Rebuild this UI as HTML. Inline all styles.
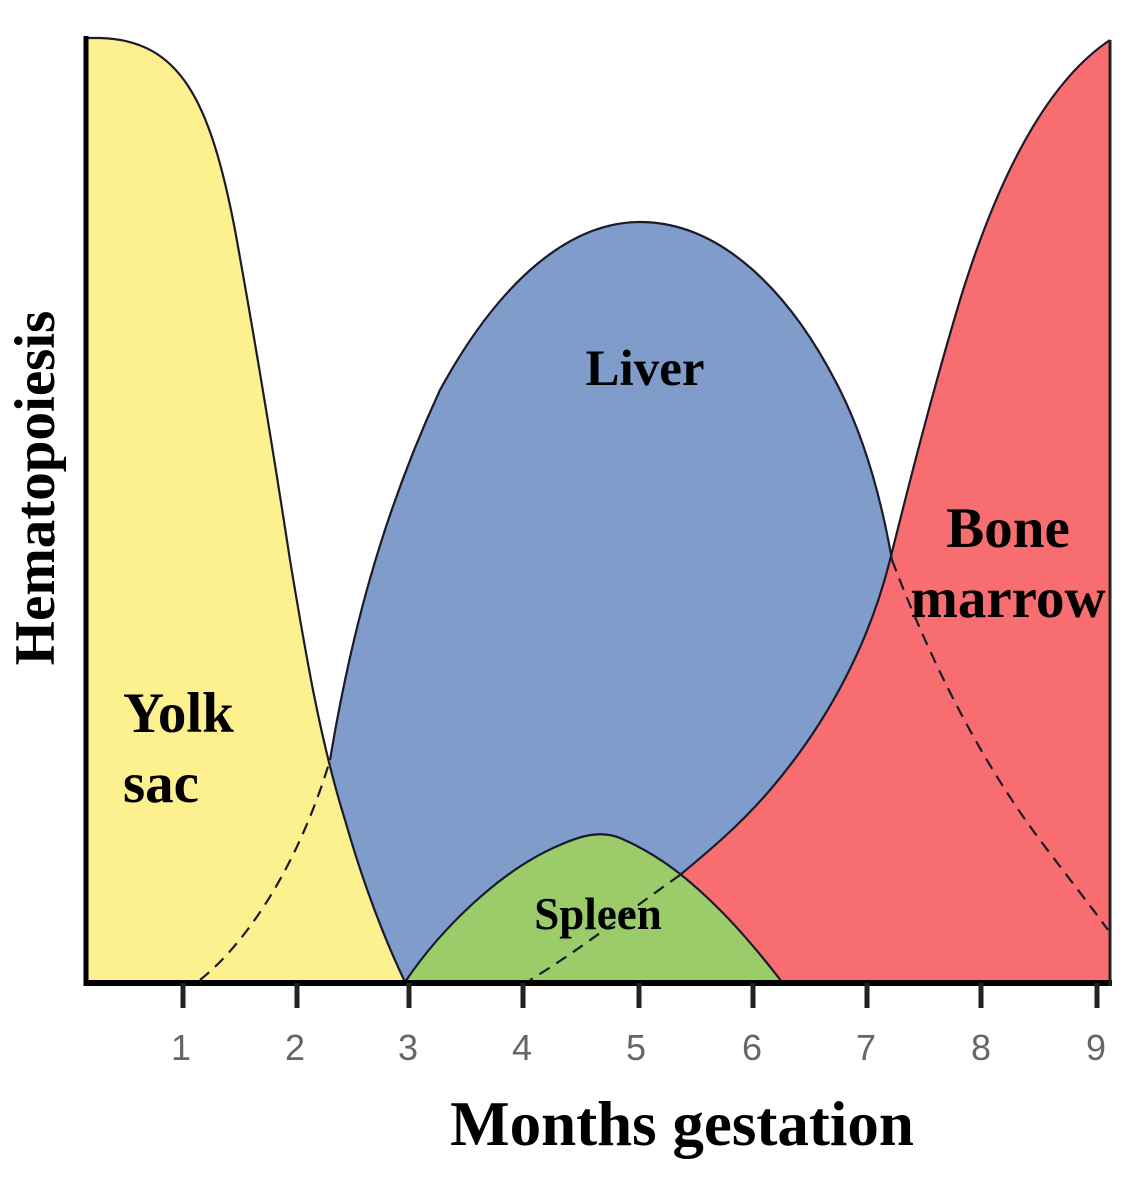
<!DOCTYPE html>
<html><head><style>
html,body{margin:0;padding:0;background:#fff;}
svg{display:block;}
</style></head><body>
<svg width="1124" height="1202" viewBox="0 0 1124 1202" xmlns="http://www.w3.org/2000/svg">
<path d="M330,760 C350,640 380,520 440,390 C500,280 570,222 640,222 C720,222 790,290 840,390 C870,450 885,520 892,560 L1108,930 L1108,982 L200,982 Z" fill="#7f9ccb"/>
<path d="M1110,40 C1050,80 1000,170 960,300 C930,400 905,500 890,560 C870,640 830,720 770,790 C740,825 710,850 680,875 C720,910 750,950 780,982 L1110,982 Z" fill="#f76d70"/>
<path d="M86,38 L100,38 C180,40 210,100 235,230 C255,340 270,430 290,560 C305,650 320,740 345,820 C365,890 385,940 405,982 L86,982 Z" fill="#fdf08f"/>
<path d="M405,982 C440,930 500,870 560,845 C580,836 600,830 620,838 C660,855 690,880 720,910 C745,935 765,960 782,982 Z" fill="#9ccb6a"/>
<g fill="none" stroke="#1a1a2a" stroke-width="2.2">
<path d="M86,38 L100,38 C180,40 210,100 235,230 C255,340 270,430 290,560 C305,650 320,740 345,820 C365,890 385,940 405,982"/>
<path d="M330,760 C350,640 380,520 440,390 C500,280 570,222 640,222 C720,222 790,290 840,390 C870,450 885,520 892,560"/>
<path d="M1110,40 C1050,80 1000,170 960,300 C930,400 905,500 890,560 C870,640 830,720 770,790 C740,825 710,850 680,875"/>
<path d="M405,982 C440,930 500,870 560,845 C580,836 600,830 620,838 C660,855 690,880 720,910 C745,935 765,960 782,982"/>
</g>
<g fill="none" stroke="#1a1a2a" stroke-width="2.2" stroke-dasharray="12,8">
<path d="M200,980 C250,940 300,860 330,760"/>
<path d="M892,560 C930,660 980,760 1040,840 C1070,880 1090,905 1108,930"/>
<path d="M680,875 C630,910 580,950 530,980"/>
</g>
<line x1="86" y1="36" x2="86" y2="986" stroke="#000" stroke-width="5"/>
<line x1="84" y1="983" x2="1112" y2="983" stroke="#000" stroke-width="6"/>
<line x1="1110" y1="40" x2="1110" y2="986" stroke="#222" stroke-width="3"/>
<g stroke="#222" stroke-width="5">
<line x1="183" y1="983" x2="183" y2="1008"/><line x1="297" y1="983" x2="297" y2="1008"/>
<line x1="409" y1="983" x2="409" y2="1008"/><line x1="523" y1="983" x2="523" y2="1008"/>
<line x1="639" y1="983" x2="639" y2="1008"/><line x1="753" y1="983" x2="753" y2="1008"/>
<line x1="867" y1="983" x2="867" y2="1008"/><line x1="981" y1="983" x2="981" y2="1008"/>
<line x1="1097" y1="983" x2="1097" y2="1008"/>
</g>
<g font-family="Liberation Sans Narrow, Liberation Sans, sans-serif" font-size="36" fill="#666" text-anchor="middle">
<text x="181" y="1060">1</text><text x="295" y="1060">2</text><text x="408" y="1060">3</text>
<text x="522" y="1060">4</text><text x="636" y="1060">5</text><text x="752" y="1060">6</text>
<text x="866" y="1060">7</text><text x="981" y="1060">8</text><text x="1096" y="1060">9</text>
</g>
<g font-family="Liberation Serif, serif" font-weight="bold" fill="#000">
<text x="123" y="732" font-size="57">Yolk</text>
<text x="123" y="802" font-size="57">sac</text>
<text x="645" y="385" font-size="51" text-anchor="middle">Liver</text>
<text x="1008" y="547" font-size="57" text-anchor="middle">Bone</text>
<text x="1008" y="617" font-size="57" text-anchor="middle">marrow</text>
<text x="598" y="929" font-size="45" text-anchor="middle">Spleen</text>
<text x="682" y="1145" font-size="63" text-anchor="middle">Months gestation</text>
<text transform="translate(54,488) rotate(-90)" font-size="57" text-anchor="middle">Hematopoiesis</text>
</g>
</svg>
</body></html>
